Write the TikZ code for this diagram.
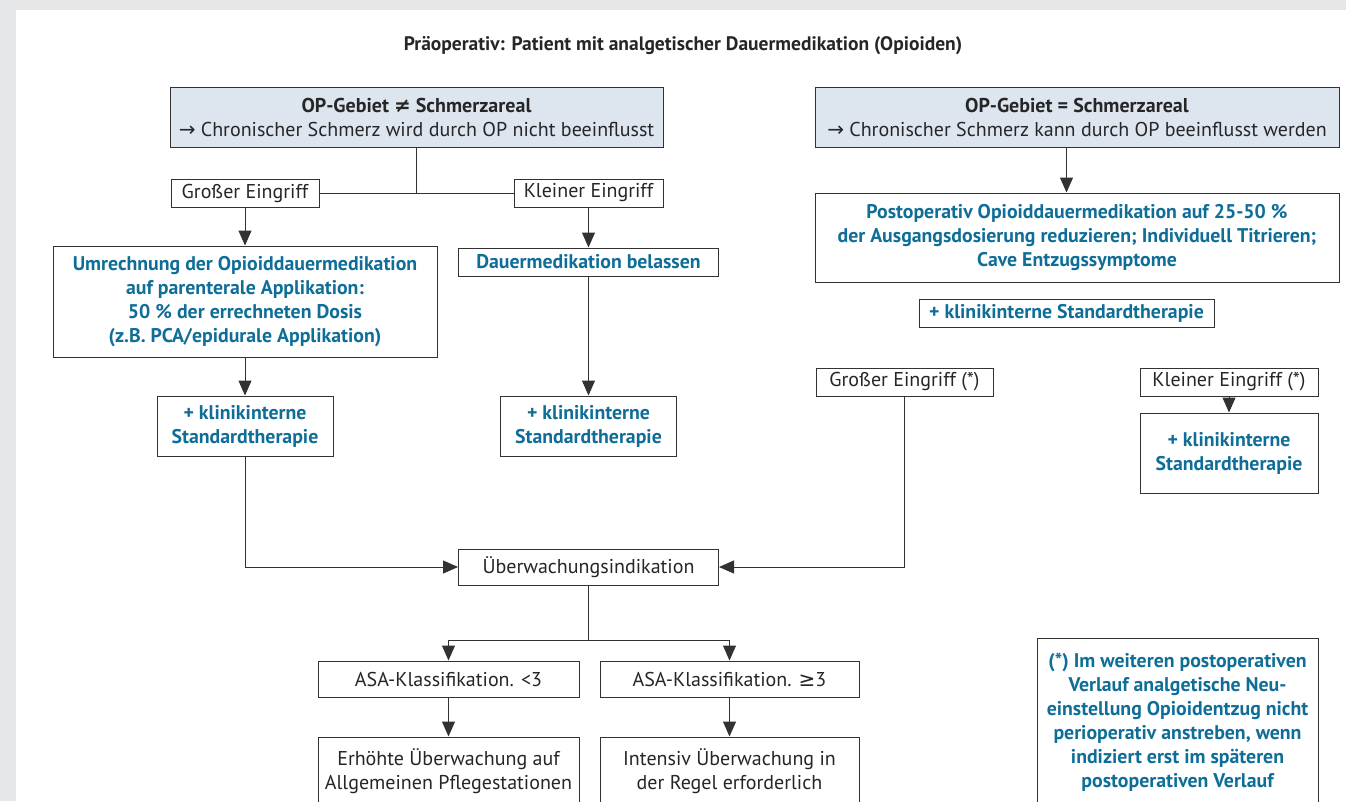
\documentclass[tikz,border=0pt]{standalone}
\usepackage{fontspec}
\setmainfont{PT Sans}
\newfontfamily\symb{DejaVu Sans}
\usetikzlibrary{
  positioning,
  arrows.meta
}
\definecolor{boxline}{RGB}{50,50,50}
\definecolor{headfill}{RGB}{221,230,239}
\definecolor{tealtext}{RGB}{15,110,152}
\definecolor{pagegrey}{RGB}{230,231,232}
\newcommand{\pfeil}{{\symb →}}
\tikzset{
  box/.style={draw=boxline,line width=1pt,fill=white,align=center,inner sep=0pt,
    font=\fontsize{20}{24}\selectfont,text=black!85},
  headbox/.style={box,fill=headfill},
  teal/.style={box,text=tealtext,font=\fontsize{19.8}{24}\selectfont\bfseries},
  link/.style={draw=boxline,line width=1pt},
  arr/.style={link,-{Triangle[length=15pt,width=13pt]}}
}

\begin{document}
\begin{tikzpicture}[x=1pt,y=-1pt]
			\useasboundingbox (0,0) rectangle (1346,801);
			\clip (0,0) rectangle (1346,801);
			\fill[pagegrey] (0,0) rectangle (1346,801);
			\fill[white] (16,10) rectangle (1346,801);

			\node[font=\fontsize{19.5}{22}\selectfont\bfseries,text=black!85] (title) at (683,46)
				{Präoperativ: Patient mit analgetischer Dauermedikation (Opioiden)};

			% linke Seite: OP-Gebiet ungleich Schmerzareal
			\node[headbox,minimum width=493pt,minimum height=60pt] (opungleich) at (416.5,117)
				{\textbf{OP-Gebiet {\symb\bfseries ≠} Schmerzareal}\\\pfeil\ Chronischer Schmerz wird durch OP nicht beeinflusst};
			\node[box,minimum width=148pt,minimum height=28pt] (grossL) at (245,193) {Großer Eingriff};
			\node[box,minimum width=149pt,minimum height=28pt] (kleinL) at (588.5,193) {Kleiner Eingriff};
			\node[teal,minimum width=384pt,minimum height=111pt] (umrech) at (245,301.5)
				{Umrechnung der Opioiddauermedikation\\auf parenterale Applikation:\\50 \% der errechneten Dosis\\(z.B. PCA/epidurale Applikation)};
			\node[teal,minimum width=260pt,minimum height=28pt] (belassen) at (588.5,262) {Dauermedikation belassen};
			\node[teal,minimum width=176pt,minimum height=60pt] (stdL) at (245,426) {+ klinikinterne\\Standardtherapie};
			\node[teal,minimum width=176pt,minimum height=60pt] (stdM) at (588.5,426) {+ klinikinterne\\Standardtherapie};

			% rechte Seite: OP-Gebiet gleich Schmerzareal
			\node[headbox,minimum width=524pt,minimum height=60pt] (opgleich) at (1077,117)
				{\textbf{OP-Gebiet = Schmerzareal}\\\pfeil\ Chronischer Schmerz kann durch OP beeinflusst werden};
			\node[teal,minimum width=524pt,minimum height=89pt] (postop) at (1077,237.5)
				{Postoperativ Opioiddauermedikation auf 25-50 \%\\der Ausgangsdosierung reduzieren; Individuell Titrieren;\\Cave Entzugssymptome};
			\node[teal,minimum width=295pt,minimum height=28pt] (stdR) at (1066.5,313) {+ klinikinterne Standardtherapie};
			\node[box,minimum width=177pt,minimum height=28pt] (grossR) at (904.5,382) {Großer Eingriff (*)};
			\node[box,minimum width=178pt,minimum height=28pt] (kleinR) at (1229,382) {Kleiner Eingriff (*)};
			\node[teal,minimum width=178pt,minimum height=80pt] (stdRR) at (1229,453) {+ klinikinterne\\Standardtherapie};

			% Ueberwachung
			\node[box,minimum width=260pt,minimum height=36pt] (ueber) at (588.5,567) {Überwachungsindikation};
			\node[box,minimum width=261pt,minimum height=36pt] (asaA) at (448.5,679) {ASA-Klassifikation. <3};
			\node[box,minimum width=259pt,minimum height=36pt] (asaB) at (729.5,679) {ASA-Klassifikation. {\symb ≥}3};
			\node[box,minimum width=261pt,minimum height=68pt] (erhoeht) at (448.5,771)
				{Erhöhte Überwachung auf\\Allgemeinen Pflegestationen};
			\node[box,minimum width=259pt,minimum height=68pt] (intensiv) at (729.5,771)
				{Intensiv Überwachung in\\der Regel erforderlich};
			\node[teal,minimum width=281pt,minimum height=168pt] (fussnote) at (1177.5,722)
				{(*) Im weiteren postoperativen\\Verlauf analgetische Neu-\\einstellung Opioidentzug nicht\\perioperativ anstreben, wenn\\indiziert erst im späteren\\postoperativen Verlauf};

			% Verbindungen
			\draw[link] (opungleich.south) -- (opungleich.south |- grossL.east);
			\draw[link] (grossL.east) -- (kleinL.west);
			\draw[arr] (grossL) -- (umrech);
			\draw[arr] (kleinL) -- (belassen);
			\draw[arr] (umrech) -- (stdL);
			\draw[arr] (belassen) -- (stdM);
			\draw[arr] (stdR |- opgleich.south) -- (stdR |- postop.north);
			\draw[arr] (kleinR) -- (stdRR);
			\draw[arr] (stdL.south) |- (ueber.west);
			\draw[arr] (grossR.south) |- (ueber.east);
			\draw[link] (ueber.south) -- ++(0,55) coordinate (teilung);
			\draw[arr] (teilung) -| (asaA.north);
			\draw[arr] (teilung) -| (asaB.north);
			\draw[arr] (asaA) -- (erhoeht);
			\draw[arr] (asaB) -- (intensiv);
		\end{tikzpicture}
\end{document}
